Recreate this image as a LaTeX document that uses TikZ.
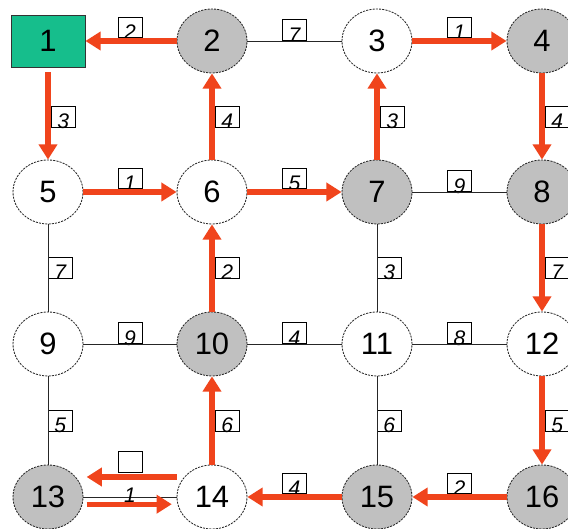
\documentclass[tikz,border=0pt]{standalone}
\usepackage{fontspec}
\setmainfont{Liberation Sans}
\usepackage{tikz}
\usetikzlibrary{arrows.meta}
\usetikzlibrary{shapes.geometric}
\usetikzlibrary{calc}
\usepackage{xcolor}
\definecolor{treered}{RGB}{240,68,28}
\definecolor{rootgreen}{RGB}{22,190,140}
\definecolor{seengray}{RGB}{192,192,192}
\newcommand{\wt}[1]{\raisebox{-0.3cm}{#1}}

\begin{document}
\begin{tikzpicture}[
    vertex/.style={ellipse, draw=black!85, line width=0.6pt, dash pattern=on 1.5pt off 0.8pt,
        minimum width=1.75cm, minimum height=1.6cm, inner sep=0pt,
        font=\fontsize{22}{26}\selectfont},
    grayv/.style={vertex, fill=seengray},
    whitev/.style={vertex, fill=white},
    rootv/.style={rectangle, draw=black!80, line width=0.6pt, fill=rootgreen,
        minimum width=1.85cm, minimum height=1.3cm, inner sep=0pt,
        font=\fontsize{22}{26}\selectfont},
    wbox/.style={rectangle, draw=black, line width=0.5pt, minimum width=0.6cm,
        minimum height=0.52cm, inner sep=0pt, text height=0pt, text depth=0pt,
        font=\fontsize{15}{17}\selectfont\itshape},
    tree/.style={treered, line width=3.6pt, -{Triangle[length=0.38cm,width=0.45cm]}},
    plain/.style={black!85, line width=0.6pt}]
    \useasboundingbox (0,0) rectangle (14.2,13.225);
    %\draw[step=1cm, gray, very thin] (0,0) grid (14.2,13.225);

    \node[rootv]  (n1)  at (1.2,12.2)    {1};
    \node[grayv]  (n2)  at (5.3,12.2)    {2};
    \node[whitev] (n3)  at (9.425,12.2)  {3};
    \node[grayv]  (n4)  at (13.55,12.2)  {4};
    \node[whitev] (n5)  at (1.2,8.425)   {5};
    \node[whitev] (n6)  at (5.3,8.425)   {6};
    \node[grayv]  (n7)  at (9.425,8.425) {7};
    \node[grayv]  (n8)  at (13.55,8.425) {8};
    \node[whitev] (n9)  at (1.2,4.625)   {9};
    \node[grayv]  (n10) at (5.3,4.625)   {10};
    \node[whitev] (n11) at (9.425,4.625) {11};
    \node[whitev] (n12) at (13.55,4.625) {12};
    \node[grayv]  (n13) at (1.2,0.8)     {13};
    \node[whitev] (n14) at (5.3,0.8)     {14};
    \node[grayv]  (n15) at (9.425,0.8)   {15};
    \node[grayv]  (n16) at (13.55,0.8)   {16};

    % weights
    \begin{scope}[every node/.style={wbox, anchor=south}]
    \node (w12)   at ($(n1)!0.5!(n2)+(0,0.07)$)   {\wt{2}};
    \node (w23)   at ($(n2)!0.5!(n3)$)            {\wt{7}};
    \node (w34)   at ($(n3)!0.5!(n4)+(0,0.07)$)   {\wt{1}};
    \node (w56)   at ($(n5)!0.5!(n6)+(0,0.07)$)   {\wt{1}};
    \node (w67)   at ($(n6)!0.5!(n7)+(0,0.07)$)   {\wt{5}};
    \node (w78)   at ($(n7)!0.5!(n8)$)            {\wt{9}};
    \node (w910)  at ($(n9)!0.5!(n10)$)           {\wt{9}};
    \node (w1011) at ($(n10)!0.5!(n11)$)          {\wt{4}};
    \node (w1112) at ($(n11)!0.5!(n12)$)          {\wt{8}};
    \node (w1314) at ($(n13)!0.5!(n14)+(0,0.6)$)  {};
    \node (w1415) at ($(n14)!0.5!(n15)+(0,0.07)$) {\wt{4}};
    \node (w1516) at ($(n15)!0.5!(n16)+(0,0.07)$) {\wt{2}};
    \end{scope}
    \begin{scope}[every node/.style={wbox, anchor=west}]
    \node (w15)   at ($(n1)!0.5!(n5)+(0.07,0)$)   {\wt{3}};
    \node (w26)   at ($(n2)!0.5!(n6)+(0.07,0)$)   {\wt{4}};
    \node (w37)   at ($(n3)!0.5!(n7)+(0.07,0)$)   {\wt{3}};
    \node (w48)   at ($(n4)!0.5!(n8)+(0.07,0)$)   {\wt{4}};
    \node (w59)   at ($(n5)!0.5!(n9)$)            {\wt{7}};
    \node (w610)  at ($(n6)!0.5!(n10)+(0.07,0)$)  {\wt{2}};
    \node (w711)  at ($(n7)!0.5!(n11)$)           {\wt{3}};
    \node (w812)  at ($(n8)!0.5!(n12)+(0.07,0)$)  {\wt{7}};
    \node (w913)  at ($(n9)!0.5!(n13)$)           {\wt{5}};
    \node (w1014) at ($(n10)!0.5!(n14)+(0.07,0)$) {\wt{6}};
    \node (w1115) at ($(n11)!0.5!(n15)$)          {\wt{6}};
    \node (w1216) at ($(n12)!0.5!(n16)+(0.07,0)$) {\wt{5}};
    \end{scope}

    \begin{scope}[plain]
    \draw (n2)--(n3);
    \draw (n7)--(n8);
    \draw (n9)--(n10);
    \draw (n10)--(n11);
    \draw (n11)--(n12);
    \draw (n5)--(n9);
    \draw (n7)--(n11);
    \draw (n9)--(n13);
    \draw (n11)--(n15);
    \draw (n13)--(n14);
    \end{scope}
    \node[font=\fontsize{15}{17}\selectfont\itshape] (t1314) at ($(n13)!0.5!(n14)+(0,0.05)$) {1};

    \begin{scope}[tree]
    \draw (n2)--(n1);
    \draw[shorten <=0.12cm] (n1)--(n5);
    \draw (n6)--(n2);
    \draw (n3)--(n4);
    \draw (n7)--(n3);
    \draw (n4)--(n8);
    \draw (n5)--(n6);
    \draw (n6)--(n7);
    \draw (n10)--(n6);
    \draw (n8)--(n12);
    \draw (n12)--(n16);
    \draw (n14)--(n10);
    \draw (n16)--(n15);
    \draw (n15)--(n14);
    \draw ([yshift=0.5cm]n14.west)--([yshift=0.5cm, xshift=0.08cm]n13.east);
    \draw ([yshift=-0.18cm, xshift=0.08cm]n13.east)--([yshift=-0.18cm, xshift=-0.12cm]n14.west);
    \end{scope}
    \end{tikzpicture}
\end{document}
